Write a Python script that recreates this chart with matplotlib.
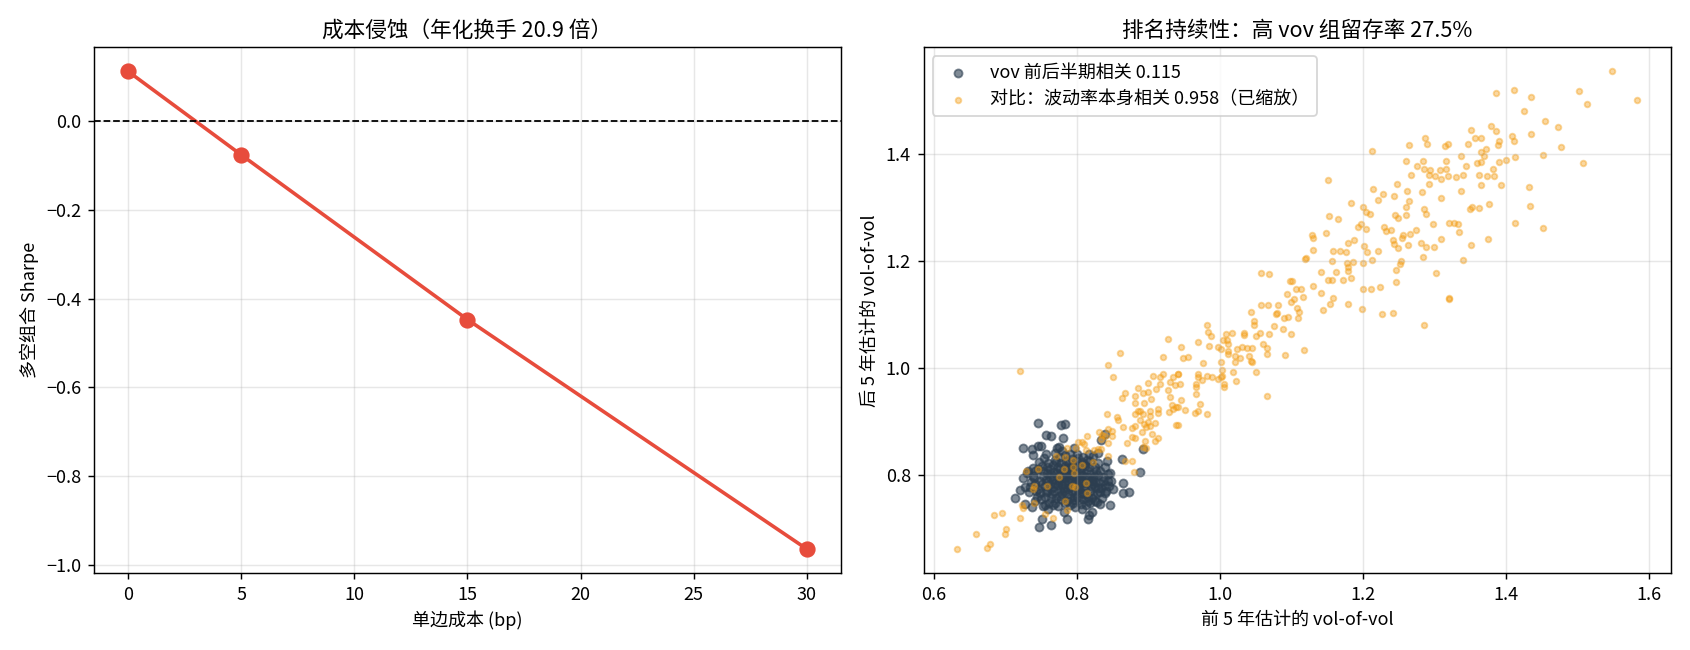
import numpy as np
import matplotlib
matplotlib.use('Agg')
import matplotlib.pyplot as plt

plt.rcParams['font.family'] = ['Noto Sans CJK SC', 'DejaVu Sans']
plt.rcParams['axes.unicode_minus'] = True

# 成本侵蚀
cost_bp = [0, 5, 15, 30]
sharpe = [0.112, -0.076, -0.447, -0.964]
turnover = 20.9

# 排名持续性
retention = 27.5
corr_vov = 0.115
corr_vol = 0.958

# 前后半期 vov (深色)
vov_pairs = [
    (0.746, 0.897), (0.778, 0.893), (0.784, 0.895), (0.757, 0.875), (0.764, 0.873),
    (0.780, 0.869), (0.725, 0.850), (0.737, 0.849), (0.746, 0.854), (0.750, 0.854),
    (0.739, 0.837), (0.757, 0.839), (0.772, 0.850), (0.775, 0.852), (0.796, 0.850),
    (0.839, 0.877), (0.834, 0.865), (0.829, 0.841), (0.842, 0.826), (0.863, 0.830),
    (0.847, 0.804), (0.888, 0.806), (0.892, 0.849), (0.864, 0.785), (0.864, 0.766),
    (0.873, 0.768), (0.840, 0.766), (0.846, 0.744), (0.832, 0.746), (0.817, 0.725),
    (0.815, 0.718), (0.786, 0.718), (0.764, 0.708), (0.747, 0.703), (0.751, 0.718),
    (0.713, 0.757), (0.725, 0.794), (0.721, 0.772), (0.727, 0.746), (0.737, 0.740),
    (0.782, 0.731), (0.807, 0.737), (0.739, 0.813), (0.730, 0.804), (0.843, 0.789),
    (0.828, 0.750), (0.821, 0.731),
    (0.745, 0.812), (0.752, 0.798), (0.760, 0.823), (0.768, 0.806), (0.775, 0.789),
    (0.783, 0.817), (0.790, 0.801), (0.797, 0.785), (0.805, 0.812), (0.812, 0.796),
    (0.820, 0.779), (0.827, 0.808), (0.741, 0.783), (0.749, 0.767), (0.757, 0.791),
    (0.764, 0.774), (0.771, 0.758), (0.779, 0.782), (0.787, 0.765), (0.794, 0.749),
    (0.801, 0.772), (0.809, 0.756), (0.816, 0.788), (0.823, 0.763), (0.738, 0.799),
    (0.746, 0.775), (0.754, 0.832), (0.761, 0.749), (0.769, 0.829), (0.776, 0.772),
    (0.784, 0.838), (0.791, 0.778), (0.799, 0.826), (0.806, 0.766), (0.814, 0.829),
    (0.821, 0.790), (0.829, 0.776), (0.836, 0.796), (0.733, 0.768), (0.742, 0.751),
    (0.751, 0.817), (0.758, 0.805), (0.766, 0.793), (0.773, 0.815), (0.781, 0.797),
    (0.788, 0.783), (0.796, 0.809), (0.803, 0.793), (0.811, 0.772), (0.818, 0.803),
    (0.826, 0.787), (0.833, 0.769), (0.756, 0.760), (0.763, 0.784), (0.778, 0.755),
    (0.786, 0.752), (0.793, 0.831), (0.808, 0.834), (0.815, 0.760), (0.830, 0.822),
    (0.839, 0.781), (0.844, 0.803), (0.736, 0.787), (0.747, 0.824), (0.770, 0.842),
    (0.775, 0.800), (0.782, 0.771), (0.789, 0.814), (0.795, 0.798), (0.802, 0.781),
    (0.810, 0.821), (0.817, 0.815), (0.824, 0.799), (0.760, 0.737), (0.773, 0.742),
    (0.798, 0.741), (0.806, 0.746), (0.819, 0.748), (0.751, 0.784), (0.758, 0.771),
    (0.767, 0.819), (0.785, 0.826), (0.792, 0.792), (0.800, 0.760), (0.813, 0.786),
    (0.822, 0.835), (0.835, 0.758), (0.744, 0.760), (0.727, 0.778), (0.731, 0.808),
    (0.848, 0.790), (0.851, 0.774), (0.765, 0.764), (0.780, 0.808), (0.797, 0.770),
    (0.804, 0.803), (0.790, 0.840), (0.776, 0.834), (0.762, 0.812), (0.755, 0.745),
    (0.817, 0.840), (0.826, 0.752), (0.839, 0.815), (0.782, 0.787), (0.794, 0.818),
    (0.808, 0.789), (0.770, 0.785), (0.786, 0.804), (0.800, 0.795), (0.740, 0.795),
    (0.802, 0.832),
    (0.748, 0.790), (0.755, 0.779), (0.762, 0.797), (0.768, 0.770), (0.773, 0.781),
    (0.779, 0.765), (0.784, 0.795), (0.788, 0.775), (0.792, 0.806), (0.796, 0.760),
    (0.799, 0.788), (0.803, 0.775), (0.807, 0.800), (0.811, 0.764), (0.814, 0.810),
    (0.818, 0.771), (0.822, 0.795), (0.825, 0.778), (0.829, 0.800), (0.833, 0.785),
    (0.752, 0.808), (0.758, 0.815), (0.764, 0.803), (0.771, 0.825), (0.777, 0.811),
    (0.783, 0.803), (0.789, 0.822), (0.795, 0.813), (0.801, 0.817), (0.807, 0.825),
    (0.812, 0.818), (0.819, 0.826), (0.825, 0.816), (0.832, 0.807), (0.837, 0.790),
    (0.743, 0.770), (0.750, 0.756), (0.757, 0.768), (0.764, 0.757), (0.770, 0.749),
    (0.777, 0.762), (0.783, 0.748), (0.790, 0.758), (0.796, 0.754), (0.803, 0.753),
    (0.809, 0.766), (0.815, 0.752), (0.821, 0.758), (0.828, 0.766), (0.834, 0.777),
    (0.760, 0.790), (0.767, 0.778), (0.774, 0.793), (0.780, 0.776), (0.787, 0.790),
    (0.793, 0.770), (0.798, 0.803), (0.804, 0.785), (0.810, 0.779), (0.816, 0.796),
    (0.823, 0.783), (0.778, 0.823), (0.772, 0.805), (0.786, 0.812), (0.806, 0.808),
    (0.741, 0.808), (0.735, 0.778), (0.845, 0.780), (0.841, 0.770), (0.790, 0.745),
    (0.779, 0.845), (0.800, 0.840), (0.813, 0.744), (0.767, 0.745), (0.752, 0.742),
]

# 对比: 波动率本身 (已缩放, 橙色)
vol_pairs = [
    (1.548, 1.554), (1.583, 1.500), (1.502, 1.517), (1.513, 1.493), (1.411, 1.519),
    (1.386, 1.513), (1.436, 1.506), (1.425, 1.479), (1.455, 1.461), (1.473, 1.449),
    (1.435, 1.436), (1.477, 1.412), (1.452, 1.397), (1.508, 1.382), (1.413, 1.393),
    (1.400, 1.389), (1.409, 1.433), (1.411, 1.423), (1.390, 1.423), (1.389, 1.416),
    (1.380, 1.451), (1.386, 1.442), (1.352, 1.444), (1.357, 1.429), (1.365, 1.429),
    (1.347, 1.419), (1.372, 1.408), (1.366, 1.404), (1.369, 1.396), (1.337, 1.395),
    (1.315, 1.415), (1.319, 1.419), (1.290, 1.418), (1.287, 1.429), (1.265, 1.416),
    (1.260, 1.387), (1.284, 1.387), (1.317, 1.386), (1.276, 1.378), (1.286, 1.371),
    (1.294, 1.369), (1.268, 1.361), (1.292, 1.361), (1.301, 1.358), (1.308, 1.369),
    (1.317, 1.371), (1.310, 1.352), (1.319, 1.358), (1.330, 1.356), (1.340, 1.360),
    (1.344, 1.378), (1.360, 1.382), (1.366, 1.384), (1.382, 1.371), (1.390, 1.384),
    (1.362, 1.361), (1.374, 1.358), (1.383, 1.358), (1.366, 1.341), (1.394, 1.341),
    (1.432, 1.337), (1.434, 1.303), (1.413, 1.271), (1.452, 1.262), (1.248, 1.344),
    (1.244, 1.321), (1.262, 1.331), (1.283, 1.329), (1.292, 1.343), (1.264, 1.312),
    (1.260, 1.300), (1.285, 1.297), (1.288, 1.287), (1.309, 1.318), (1.337, 1.331),
    (1.350, 1.297), (1.353, 1.300), (1.363, 1.299), (1.377, 1.307), (1.260, 1.286),
    (1.245, 1.286), (1.249, 1.280), (1.298, 1.269), (1.321, 1.271), (1.327, 1.271),
    (1.333, 1.269), (1.335, 1.254), (1.275, 1.257), (1.266, 1.251), (1.256, 1.248),
    (1.255, 1.242), (1.239, 1.257), (1.242, 1.239), (1.243, 1.232), (1.249, 1.224),
    (1.263, 1.230), (1.281, 1.234), (1.289, 1.226), (1.299, 1.226), (1.309, 1.240),
    (1.351, 1.229), (1.375, 1.240), (1.284, 1.207), (1.340, 1.202), (1.253, 1.199),
    (1.252, 1.194), (1.246, 1.183), (1.247, 1.160), (1.302, 1.177), (1.320, 1.131),
    (1.119, 1.203), (1.157, 1.200), (1.178, 1.197), (1.187, 1.198), (1.200, 1.196),
    (1.213, 1.201), (1.058, 1.178), (1.069, 1.175), (1.142, 1.180), (1.162, 1.180),
    (1.180, 1.188), (1.180, 1.181), (1.183, 1.169), (1.173, 1.165), (1.152, 1.165),
    (1.157, 1.165), (1.098, 1.163), (1.101, 1.163), (1.130, 1.154), (1.113, 1.148),
    (1.106, 1.147), (1.094, 1.139), (1.141, 1.141), (1.200, 1.147), (1.211, 1.148),
    (1.224, 1.152), (1.116, 1.132), (1.104, 1.128), (1.099, 1.124), (1.158, 1.130),
    (1.154, 1.119), (1.179, 1.119), (1.199, 1.111), (1.145, 1.109), (1.227, 1.100),
    (1.242, 1.102), (1.286, 1.080), (1.321, 1.128), (1.058, 1.117), (1.068, 1.117),
    (1.082, 1.117), (1.044, 1.104), (1.080, 1.102), (1.079, 1.100), (1.108, 1.113),
    (1.111, 1.104), (1.096, 1.096), (1.090, 1.093), (1.110, 1.093), (1.048, 1.087),
    (1.048, 1.081), (1.076, 1.078), (1.089, 1.072), (1.100, 1.064), (1.056, 1.066),
    (1.069, 1.063), (1.051, 1.059), (1.034, 1.066), (1.034, 1.061), (1.017, 1.065),
    (1.008, 1.063), (1.004, 1.053), (1.010, 1.053), (0.982, 1.081), (0.984, 1.068),
    (0.987, 1.059), (0.969, 1.048), (0.985, 1.042), (0.997, 1.040), (1.002, 1.035),
    (1.011, 1.044), (1.011, 1.031), (1.011, 1.027), (1.024, 1.035), (1.031, 1.040),
    (1.038, 1.037), (1.045, 1.038), (1.060, 1.044), (1.066, 1.038), (1.066, 1.027),
    (1.091, 1.024), (1.118, 1.033), (1.028, 1.018), (1.021, 1.022), (1.021, 1.011),
    (1.041, 1.022), (1.044, 1.014), (1.045, 1.012), (1.002, 1.012), (1.003, 0.997),
    (1.018, 0.992), (1.050, 0.992), (1.023, 0.975), (1.066, 0.947), (0.946, 1.040),
    (0.949, 1.018), (0.956, 1.020), (0.977, 1.009), (0.942, 0.988), (0.970, 0.988),
    (0.969, 0.983), (0.982, 0.986), (0.989, 0.984), (0.997, 0.979), (1.003, 0.986),
    (1.002, 0.983), (0.975, 0.977), (0.966, 0.970), (0.966, 0.964), (1.006, 0.970),
    (1.006, 0.964), (0.945, 0.971), (0.966, 0.951), (0.946, 0.940), (0.972, 0.932),
    (0.942, 0.927), (0.952, 0.921), (0.965, 0.917), (0.969, 0.919), (0.982, 0.914),
    (0.942, 0.893),
    (1.152, 1.351), (1.214, 1.335), (1.228, 1.325), (1.222, 1.314), (1.184, 1.308),
    (1.201, 1.301), (1.204, 1.292), (1.210, 1.288), (1.153, 1.284), (1.166, 1.279),
    (1.194, 1.264), (1.197, 1.268), (1.205, 1.260), (1.229, 1.264), (1.233, 1.256),
    (1.149, 1.252), (1.129, 1.249), (1.131, 1.243), (1.188, 1.239), (1.180, 1.234),
    (1.131, 1.221), (1.202, 1.228), (1.222, 1.219), (1.206, 1.217), (1.159, 1.219),
    (1.168, 1.219), (1.177, 1.217), (1.120, 1.206), (1.213, 1.405),
    (0.720, 0.994), (0.861, 1.028), (0.843, 1.005), (0.850, 0.983), (0.927, 1.054),
    (0.921, 1.020), (0.906, 0.986), (0.917, 0.984), (0.921, 0.988), (0.934, 0.984),
    (0.941, 0.988),
    (0.633, 0.662), (0.659, 0.690), (0.674, 0.665), (0.679, 0.671), (0.684, 0.725),
    (0.695, 0.729), (0.700, 0.690), (0.701, 0.699), (0.720, 0.721), (0.725, 0.738),
    (0.723, 0.744), (0.729, 0.807), (0.740, 0.779), (0.739, 0.774), (0.740, 0.748),
    (0.746, 0.811), (0.755, 0.727), (0.766, 0.721), (0.758, 0.779), (0.771, 0.836),
    (0.775, 0.796), (0.782, 0.811), (0.783, 0.834), (0.783, 0.751), (0.786, 0.736),
    (0.786, 0.850), (0.793, 0.779), (0.794, 0.828), (0.794, 0.815), (0.796, 0.804),
    (0.797, 0.778), (0.807, 0.819), (0.813, 0.785), (0.814, 0.766), (0.823, 0.824),
    (0.801, 0.862), (0.807, 0.862), (0.810, 0.858), (0.814, 0.873), (0.799, 0.850),
    (0.824, 0.847), (0.813, 0.847), (0.830, 0.849), (0.834, 0.849), (0.834, 0.867),
    (0.831, 0.880), (0.835, 0.875), (0.840, 0.873), (0.843, 0.886), (0.842, 0.914),
    (0.849, 0.882), (0.849, 0.873), (0.844, 0.860), (0.844, 0.836), (0.856, 0.908),
    (0.857, 0.903), (0.863, 0.944), (0.867, 0.953), (0.864, 0.890), (0.870, 0.860),
    (0.867, 0.826), (0.877, 0.826), (0.880, 0.806), (0.877, 0.888), (0.877, 0.871),
    (0.881, 0.869), (0.882, 0.892), (0.885, 0.963), (0.881, 0.948), (0.881, 0.935),
    (0.881, 0.914), (0.892, 0.953), (0.894, 0.935), (0.885, 0.920), (0.888, 0.920),
    (0.892, 0.914), (0.888, 0.903), (0.894, 0.895), (0.897, 0.890), (0.891, 0.880),
    (0.895, 0.864), (0.897, 0.850), (0.892, 0.852), (0.900, 0.972), (0.900, 0.955),
    (0.904, 0.942), (0.903, 0.920), (0.903, 0.910), (0.899, 0.899), (0.903, 0.892),
    (0.909, 0.897), (0.905, 0.877), (0.910, 0.864), (0.914, 0.869), (0.911, 0.961),
    (0.914, 0.923), (0.914, 0.916), (0.917, 0.970), (0.928, 0.959), (0.931, 0.946),
    (0.929, 0.918), (0.933, 0.931), (0.934, 0.923), (0.939, 0.893), (0.939, 0.927),
    (0.930, 0.974), (0.938, 0.969),
]

vov_x = [p[0] for p in vov_pairs]
vov_y = [p[1] for p in vov_pairs]
vol_x = [p[0] for p in vol_pairs]
vol_y = [p[1] for p in vol_pairs]

fig, axes = plt.subplots(1, 2, figsize=(13, 5), dpi=130)

ax = axes[0]
ax.plot(cost_bp, sharpe, marker='o', color='#e74c3c', linewidth=2, markersize=8)
ax.axhline(0, color='black', linestyle='--', linewidth=1)
ax.set_title(f'成本侵蚀（年化换手 {turnover} 倍）')
ax.set_xlabel('单边成本 (bp)')
ax.set_ylabel('多空组合 Sharpe')
ax.grid(alpha=0.3)

ax = axes[1]
ax.scatter(vov_x, vov_y, s=20, alpha=0.6, color='#2c3e50',
           label=f'vov 前后半期相关 {corr_vov:.3f}')
ax.scatter(vol_x, vol_y, s=10, alpha=0.4, color='#f39c12',
           label=f'对比：波动率本身相关 {corr_vol:.3f}（已缩放）')
ax.set_title(f'排名持续性：高 vov 组留存率 {retention}%')
ax.set_xlabel('前 5 年估计的 vol-of-vol')
ax.set_ylabel('后 5 年估计的 vol-of-vol')
ax.legend(loc='upper left')
ax.grid(alpha=0.3)

plt.tight_layout()
plt.savefig('out.png')
